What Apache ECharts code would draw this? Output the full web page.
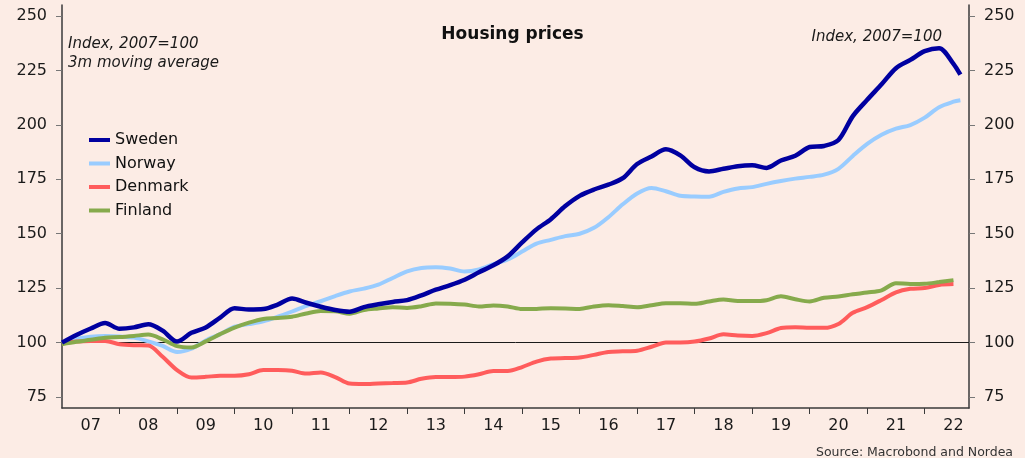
<!DOCTYPE html>
<html>
<head>
<meta charset="utf-8">
<script src="https://cdn.jsdelivr.net/npm/echarts@6/dist/echarts.min.js"></script>
<style>
  html, body { margin: 0; padding: 0; background: #fcece5; }
  #chart { width: 1025px; height: 458px; }
</style>
</head>
<body>
<div id="chart"></div>
<script>
// quarterly points (decimal years), last one is the latest monthly reading
var dates = [];
for (var y = 2007; y <= 2022; y++) {
    for (var q = 0; q < 4; q++) {
        if (y === 2022 && q > 2) break;
        dates.push(y + q / 4);
    }
}
dates.push(2022.62);

var yearLabels = ['07','08','09','10','11','12','13','14','15','16','17','18','19','20','21','22'];
var yTicks = [75, 100, 125, 150, 175, 200, 225, 250];

var sweden = [100, 103.5, 106.5, 109, 106.4, 107, 108.4, 105.5, 100.5, 104.5, 107, 111.5,
    115.8, 115.2, 115.4, 117.5, 120.3, 118.3, 116.5, 115, 114.2, 116.3, 117.6, 118.7,
    119.5, 121.7, 124.3, 126.4, 128.9, 132.3, 135.5, 139.6, 146, 152, 156.7, 162.7,
    167.4, 170.3, 172.5, 175.5, 182, 185.5, 188.8, 186, 180.5, 178.6, 179.8, 181,
    181.4, 180.2, 183.6, 185.8, 189.8, 190.3, 193, 204, 211.5, 218.6, 226, 229.8,
    233.8, 235.2, 228, 223];
var norway = [100, 101.8, 102.7, 103, 102.8, 102.3, 100.6, 98.5, 95.7, 97.2, 101, 103.9,
    107.3, 108.5, 109.8, 111.9, 114.3, 116.9, 119, 121.4, 123.5, 124.8, 126.6, 129.7,
    132.7, 134.3, 134.6, 134, 132.7, 133.6, 136, 138.2, 141.8, 145.5, 147.2, 148.9,
    150, 152.7, 157.6, 163.5, 168.5, 171, 169.5, 167.4, 167.1, 167, 169.2, 170.8,
    171.4, 172.9, 174.2, 175.3, 176.1, 177.1, 179.8, 185.7, 191.2, 195.4, 198.2, 199.9,
    203.3, 208.1, 210.6, 211.3];
var denmark = [99.7, 100.5, 100.7, 100.7, 99.3, 98.8, 98.7, 93.5, 87.4, 84, 84.3, 84.8,
    84.8, 85.5, 87.4, 87.4, 87.1, 85.8, 86.3, 84.2, 81.2, 81, 81.3, 81.5,
    81.7, 83.4, 84.2, 84.2, 84.4, 85.5, 87, 87, 88.8, 91.3, 92.7, 92.9,
    93.2, 94.4, 95.7, 96, 96.3, 98.1, 100.1, 100.1, 100.5, 101.9, 103.8, 103.3,
    103.1, 104.4, 106.7, 107.1, 106.8, 106.8, 108.6, 113.7, 116.3, 119.6, 123.1, 124.7,
    125.1, 126.5, 126.9, null];
var finland = [99.3, 100.4, 101.3, 102.3, 102.6, 103.1, 103.7, 101.5, 98.4, 97.8, 100.6, 103.9,
    106.9, 109.2, 110.9, 111.3, 111.9, 113.4, 114.5, 114.4, 113.3, 115, 115.7, 116.3,
    115.9, 116.7, 118, 117.9, 117.5, 116.6, 117.1, 116.6, 115.4, 115.5, 115.8, 115.7,
    115.5, 116.6, 117.2, 116.8, 116.3, 117.2, 118.1, 118.1, 117.8, 118.9, 119.8, 119.1,
    119.1, 119.5, 121.3, 119.9, 118.9, 120.6, 121.2, 122.2, 123, 124, 127.3, 126.9,
    127, 127.8, 128.7, null];

function pairs(values) {
    return dates.map(function (d, i) { return [d, values[i]]; });
}

var font = 'DejaVu Sans';
var axisColor = '#3a3a3a';

function yAxis(pos) {
    return {
        type: 'value',
        position: pos,
        min: 70,
        max: 255,
        splitLine: { show: false },
        axisLine: { show: true, lineStyle: { color: axisColor, width: 1.5 } },
        axisTick: { show: true, customValues: yTicks, length: 6, lineStyle: { color: '#777' } },
        axisLabel: { customValues: yTicks, margin: 15, fontSize: 16, color: '#1a1a1a', fontFamily: font }
    };
}

function line(name, values, color, width) {
    return {
        name: name,
        type: 'line',
        data: pairs(values),
        showSymbol: false,
        smooth: 0.3,
        color: color,
        lineStyle: { color: color, width: width },
        animation: false
    };
}

var chart = echarts.init(document.getElementById('chart'));
chart.setOption({
    backgroundColor: '#fcece5',
    textStyle: { fontFamily: font },
    grid: { left: 62, right: 56, top: 5, bottom: 50 },
    title: [
        { text: 'Housing prices', left: 'center', top: 21,
          textStyle: { fontSize: 17, fontWeight: 'bold', color: '#111', fontFamily: font } },
        { text: 'Index, 2007=100\n3m moving average', left: 63, top: 30,
          textStyle: { fontSize: 15, fontStyle: 'italic', fontWeight: 'normal', color: '#1a1a1a', lineHeight: 19, fontFamily: font } },
        { text: 'Index, 2007=100', right: 78, top: 25,
          textStyle: { fontSize: 15, fontStyle: 'italic', fontWeight: 'normal', color: '#1a1a1a', fontFamily: font } },
        { text: 'Source: Macrobond and Nordea', right: 7, top: 441,
          textStyle: { fontSize: 12.5, fontWeight: 'normal', color: '#333', fontFamily: font } }
    ],
    legend: {
        orient: 'vertical',
        left: 89,
        top: 130,
        padding: 0,
        icon: 'rect',
        itemWidth: 21,
        itemHeight: 4,
        itemGap: 3.5,
        data: ['Sweden', 'Norway', 'Denmark', 'Finland'],
        textStyle: { fontSize: 16, color: '#111', lineHeight: 20, fontFamily: font }
    },
    xAxis: {
        type: 'value',
        min: 2007,
        max: 2022.77,
        splitLine: { show: false },
        axisLine: { show: true, lineStyle: { color: axisColor, width: 1.5 } },
        axisTick: { show: true, customValues: [2008, 2009, 2010, 2011, 2012, 2013, 2014, 2015,
            2016, 2017, 2018, 2019, 2020, 2021, 2022], length: 6, lineStyle: { color: axisColor } },
        axisLabel: {
            customValues: yearLabels.map(function (l, i) { return 2007.5 + i; }),
            formatter: function (v) { return yearLabels[Math.floor(v) - 2007]; },
            margin: 10, fontSize: 16, color: '#1a1a1a', fontFamily: font
        }
    },
    yAxis: [yAxis('left'), yAxis('right')],
    series: [
        line('Norway', norway, '#99ccff', 4),
        line('Denmark', denmark, '#ff5c5c', 4),
        line('Finland', finland, '#86aa4c', 4),
        Object.assign(line('Sweden', sweden, '#0000a0', 4.5), {
            markLine: {
                silent: true,
                symbol: 'none',
                label: { show: false },
                lineStyle: { color: '#1a1a1a', width: 1, type: 'solid' },
                data: [{ yAxis: 100 }],
                z: 1
            }
        })
    ]
});
</script>
</body>
</html>
